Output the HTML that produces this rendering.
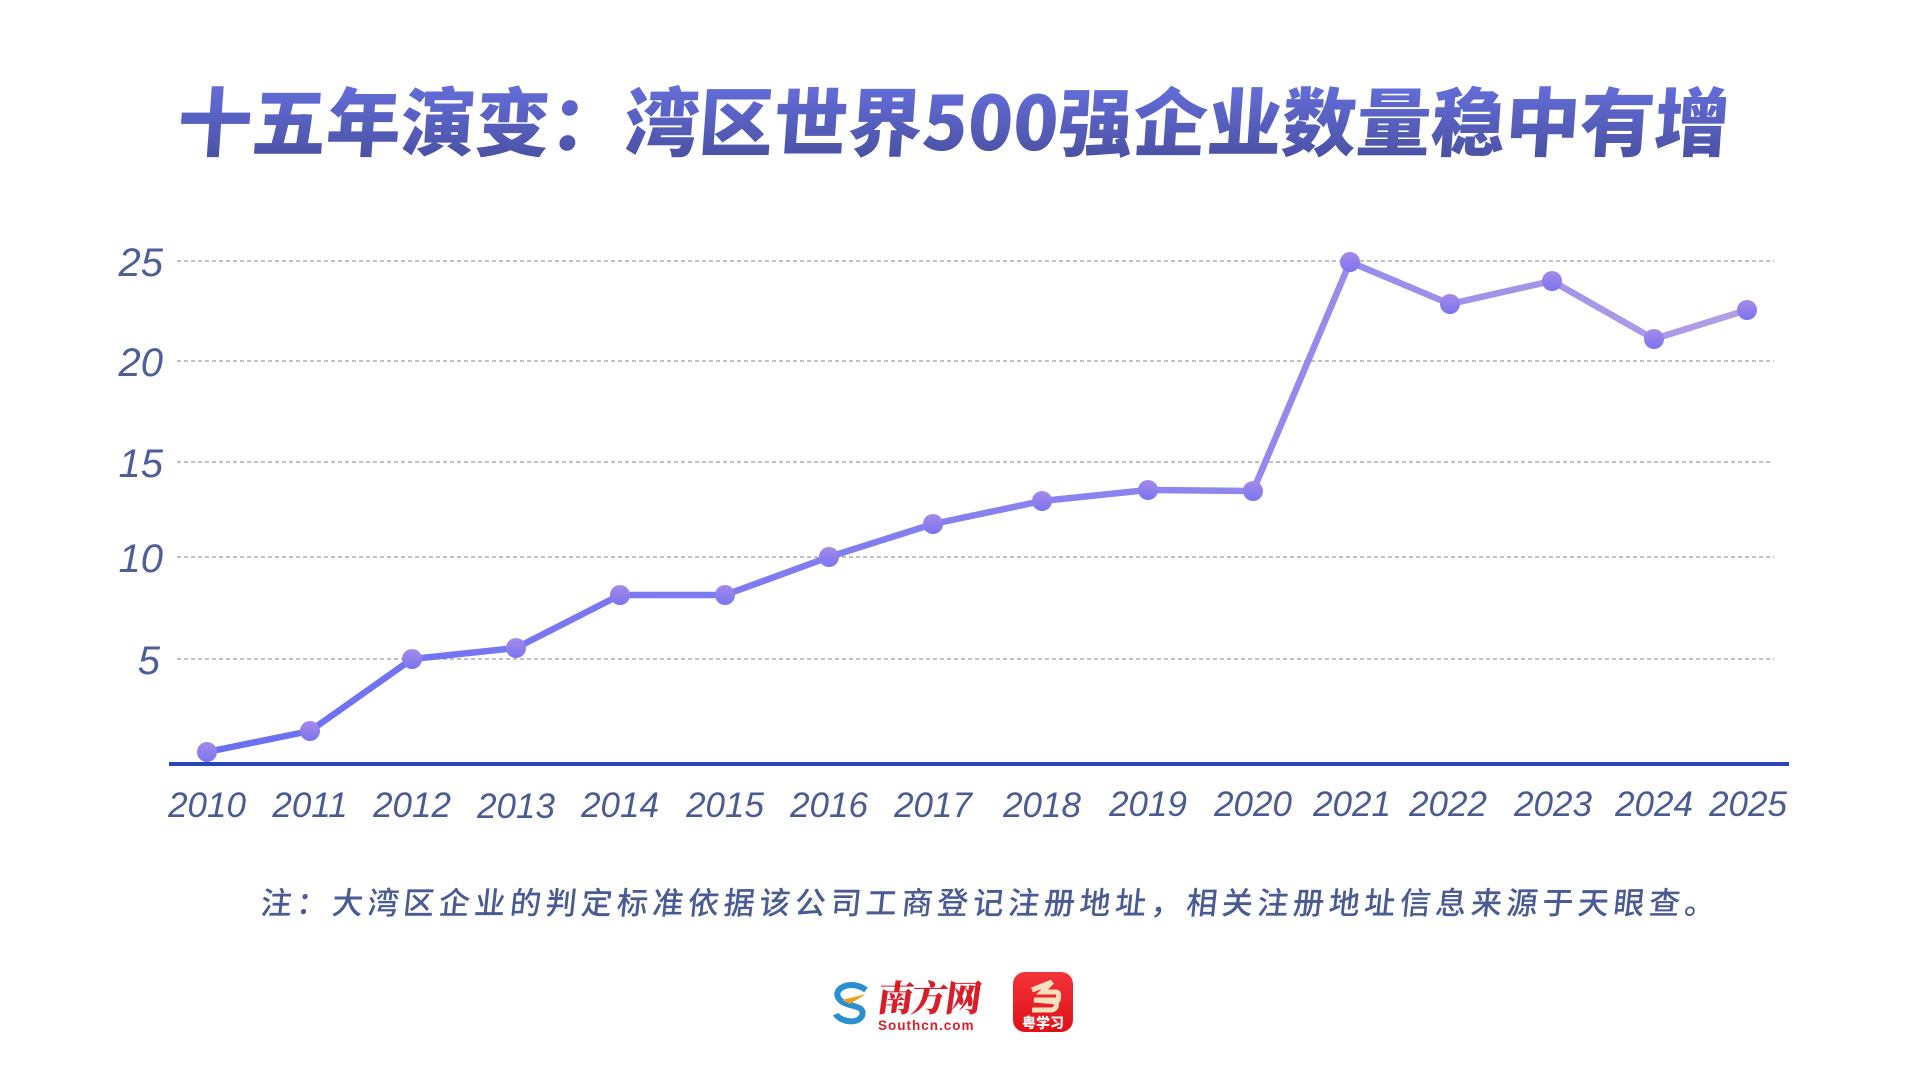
<!DOCTYPE html>
<html><head><meta charset="utf-8"><style>
html,body{margin:0;padding:0;background:#fff;}
body{width:1920px;height:1080px;overflow:hidden;position:relative;}
</style></head><body>
<svg width="1920" height="1080" xmlns="http://www.w3.org/2000/svg" style="position:absolute;left:0;top:0">
<defs>
<linearGradient id="tg" x1="0" y1="0" x2="0" y2="1">
<stop offset="0" stop-color="#6b76ea"/><stop offset="1" stop-color="#464c98"/></linearGradient>
<linearGradient id="lg" x1="207" y1="0" x2="1747" y2="0" gradientUnits="userSpaceOnUse">
<stop offset="0" stop-color="#6a6ff2"/><stop offset="0.65" stop-color="#8f86ee"/><stop offset="1" stop-color="#b19ee6"/></linearGradient>
<linearGradient id="mg" x1="0" y1="0" x2="0" y2="1">
<stop offset="0" stop-color="#a58ae8"/><stop offset="1" stop-color="#7a74f0"/></linearGradient>
<linearGradient id="rg" x1="0" y1="0" x2="0" y2="1">
<stop offset="0" stop-color="#f5333a"/><stop offset="1" stop-color="#e01018"/></linearGradient>
</defs>
<text x="960" y="150" text-anchor="middle" font-family="'Noto Sans CJK SC','WenQuanYi Zen Hei',sans-serif" font-weight="900" font-size="74.5" fill="url(#tg)" transform="skewX(-4) translate(2,0)">十五年演变：湾区世界500强企业数量稳中有增</text>
<g stroke="#9a9a9a" stroke-width="1.3" stroke-dasharray="4,3">
<line x1="177" y1="261" x2="1774" y2="261"/><line x1="177" y1="361" x2="1774" y2="361"/>
<line x1="177" y1="462" x2="1770" y2="462"/><line x1="177" y1="557" x2="1774" y2="557"/>
<line x1="177" y1="659" x2="1774" y2="659"/></g>
<g font-family="'Liberation Sans',sans-serif" font-style="italic" font-size="40" fill="#4e5f98" text-anchor="end">
<text x="163" y="276">25</text><text x="163" y="376">20</text><text x="163" y="477">15</text><text x="163" y="572">10</text><text x="160" y="674">5</text></g>
<line x1="169" y1="764" x2="1789" y2="764" stroke="#2a45b8" stroke-width="4"/>
<polyline fill="none" stroke="url(#lg)" stroke-width="6.5" stroke-linejoin="round" points="207,752 310,731 412,659 516,648 620,595 725,595 829,557 933,524 1042,501 1148,490 1253,491 1350,262 1450,304 1552,281 1654,339 1747,310"/>
<g fill="url(#mg)">
<circle cx="207" cy="752" r="10"/><circle cx="310" cy="731" r="10"/><circle cx="412" cy="659" r="10"/><circle cx="516" cy="648" r="10"/><circle cx="620" cy="595" r="10"/><circle cx="725" cy="595" r="10"/><circle cx="829" cy="557" r="10"/><circle cx="933" cy="524" r="10"/><circle cx="1042" cy="501" r="10"/><circle cx="1148" cy="490" r="10"/><circle cx="1253" cy="491" r="10"/><circle cx="1350" cy="262" r="10"/><circle cx="1450" cy="304" r="10"/><circle cx="1552" cy="281" r="10"/><circle cx="1654" cy="339" r="10"/><circle cx="1747" cy="310" r="10"/></g>
<g font-family="'Liberation Sans',sans-serif" font-style="italic" font-size="35" fill="#4a5a92" text-anchor="middle">
<text x="207" y="817">2010</text><text x="310" y="817">2011</text><text x="412" y="817">2012</text><text x="516" y="818">2013</text><text x="620" y="817">2014</text><text x="725" y="817">2015</text><text x="829" y="817">2016</text><text x="933" y="817">2017</text><text x="1042" y="817">2018</text><text x="1148" y="816">2019</text><text x="1253" y="816">2020</text><text x="1352" y="816">2021</text><text x="1448" y="816">2022</text><text x="1553" y="816">2023</text><text x="1654" y="816">2024</text><text x="1748" y="816">2025</text></g>
<text x="260" y="914" font-family="'Liberation Sans','Noto Sans CJK SC',sans-serif" font-size="31" font-weight="500" fill="#4a5a92" letter-spacing="4.6" transform="skewX(-6) translate(96,0)">注：大湾区企业的判定标准依据该公司工商登记注册地址，相关注册地址信息来源于天眼查。</text>
<!-- logos -->
<path d="M866,990 C850,978 830,990 840,1000 C848,1008 866,1004 862,1016 C856,1026 838,1020 836,1014" fill="none" stroke="#2a8fd0" stroke-width="6"/>
<path d="M842,1000 L866,994 L850,1004 Z" fill="#f0a020"/>
<text x="878" y="1011" font-family="'Noto Serif CJK SC',serif" font-weight="900" font-size="36" fill="#d81e2a" letter-spacing="-2" transform="skewX(-8) translate(140,0)">南方网</text>
<text x="878" y="1030" font-family="'Liberation Sans',sans-serif" font-weight="bold" font-size="13.5" fill="#d81e2a" letter-spacing="1">Southcn.com</text>
<rect x="1013" y="972" width="60" height="60" rx="12" fill="url(#rg)"/>
<path d="M1032,990 L1052,982 L1042,992 L1056,992 Q1060,992 1058,1000 L1034,1000 L1056,1002 Q1058,1008 1052,1010 L1032,1010" fill="none" stroke="#f5e0c0" stroke-width="5"/>
<text x="1043" y="1028" text-anchor="middle" font-family="'Noto Sans CJK SC',sans-serif" font-weight="900" font-size="14" fill="#fff">粤学习</text>
</svg>
</body></html>
